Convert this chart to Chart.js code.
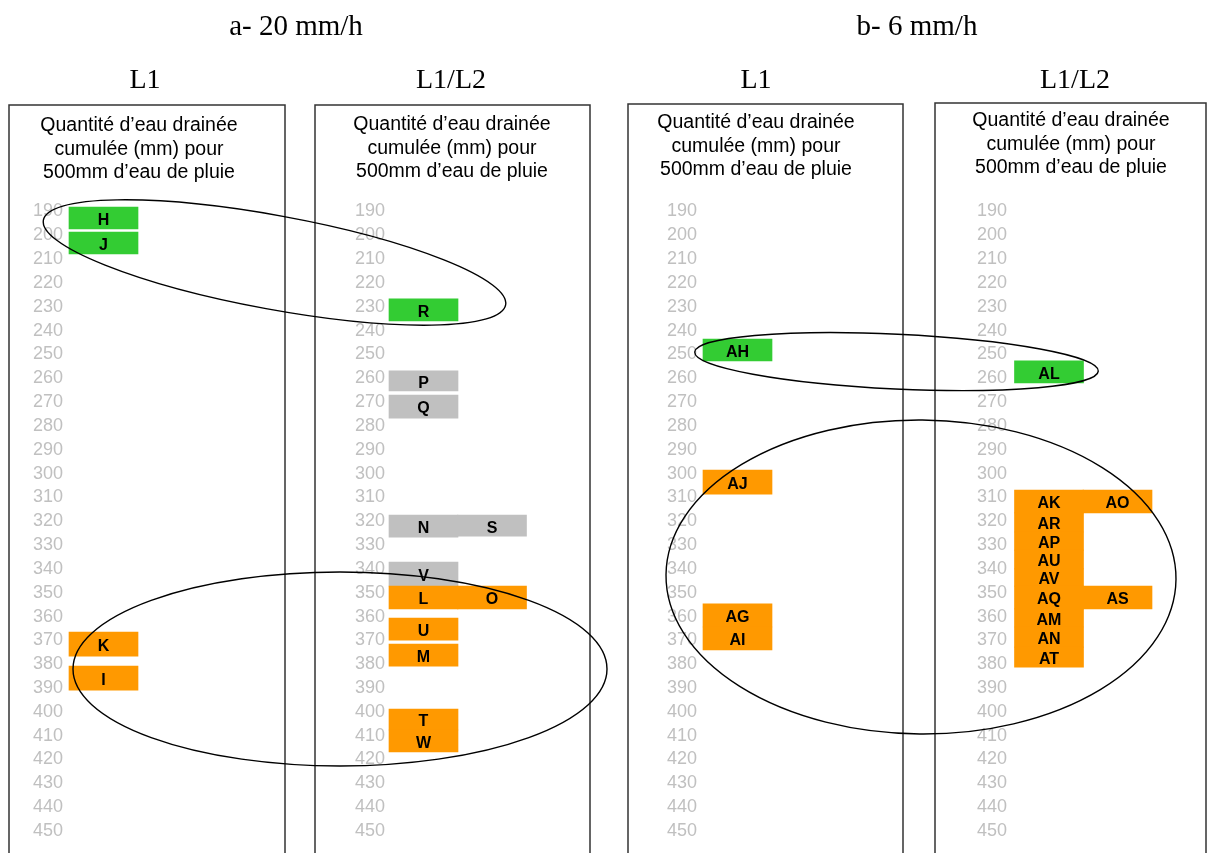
<!DOCTYPE html>
<html>
<head>
<meta charset="utf-8">
<script src="https://cdn.jsdelivr.net/npm/chart.js@4.4.0/dist/chart.umd.min.js"></script>
<style>
  body { margin: 0; background: #fff; }
  #wrap { position: relative; width: 1207px; height: 853px; overflow: hidden; }
</style>
</head>
<body>
<div id="wrap"><canvas id="drainChart"></canvas></div>
<script>
// Tick labels shown in every column (mm)
const tickFirst = 190;
const tickLast = 450;
const tickStep = 10;

const rateTitles = ['a- 20 mm/h', 'b- 6 mm/h'];
const layerTitles = ['L1', 'L1/L2', 'L1', 'L1/L2'];
const headerLines = ['Quantité d\u2019eau drainée', 'cumulée (mm) pour', '500mm d\u2019eau de pluie'];

// a- 20 mm/h, L1
const p1Letters = ['H', 'J', 'K', 'I'];
const p1Column = [1, 1, 1, 1];
const p1From = [188.1, 198.6, 366.5, 380.8];
const p1To = [197.3, 207.8, 376.6, 390.9];
const p1Group = ['vert', 'vert', 'orange', 'orange'];

// a- 20 mm/h, L1/L2
const p2Letters = ['R', 'P', 'Q', 'N', 'S', 'V', 'L', 'O', 'U', 'M', 'T', 'W'];
const p2Column = [1, 1, 1, 1, 2, 1, 1, 2, 1, 1, 1, 1];
const p2From = [226.7, 256.9, 267.0, 317.4, 317.4, 337.1, 347.2, 347.2, 360.6, 371.5, 398.8, 407.6];
const p2To = [235.9, 265.3, 276.7, 326.7, 326.3, 347.2, 356.8, 356.8, 369.9, 380.8, 407.6, 416.8];
const p2Group = ['vert', 'gris', 'gris', 'gris', 'gris', 'gris', 'orange', 'orange', 'orange', 'orange', 'orange', 'orange'];

// b- 6 mm/h, L1
const p3Letters = ['AH', 'AJ', 'AG', 'AI'];
const p3Column = [1, 1, 1, 1];
const p3From = [243.5, 298.5, 354.7, 364.4];
const p3To = [252.7, 308.6, 364.4, 374.0];
const p3Group = ['vert', 'orange', 'orange', 'orange'];

// b- 6 mm/h, L1/L2
const p4Letters = ['AL', 'AK', 'AO', 'AR', 'AP', 'AU', 'AV', 'AQ', 'AS', 'AM', 'AN', 'AT'];
const p4Column = [1, 1, 2, 1, 1, 1, 1, 1, 2, 1, 1, 1];
const p4From = [252.7, 306.9, 306.9, 316.5, 324.5, 332.1, 340.0, 347.2, 347.2, 356.8, 364.4, 372.8];
const p4To = [261.9, 316.5, 316.5, 324.5, 332.1, 340.0, 347.2, 356.8, 356.8, 364.4, 372.8, 381.2];
const p4Group = ['vert', 'orange', 'orange', 'orange', 'orange', 'orange', 'orange', 'orange', 'orange', 'orange', 'orange', 'orange'];

const groupColors = { vert: '#33cc33', gris: '#c0c0c0', orange: '#ff9900' };

// page layout (x in scale units = px, y of ellipses in mm)
const layout = {
  frameLeft: [9, 315, 628, 935],
  frameRight: [285, 590, 903, 1206],
  frameTop: [105, 105, 104, 103],
  tickRight: [63, 385, 697, 1007],
  col1: [103.5, 423.5, 737.5, 1049],
  colGap: 68.5,
  headerX: [139, 452, 756, 1071],
  headerY: [126, 125, 123, 121],
  rateX: [296, 917],
  rateY: 27,
  layerX: [145, 451, 756, 1075],
  layerY: 81,
  ellipses: [
    { cx: 274.5, cy: 211.4, rx: 235, ry: 19.7, tilt: 10.4 },
    { cx: 340, cy: 382.0, rx: 267, ry: 40.7, tilt: 0 },
    { cx: 896.5, cy: 253.0, rx: 202, ry: 11.5, tilt: 2.7 },
    { cx: 921, cy: 343.4, rx: 255, ry: 65.9, tilt: 0.5 }
  ]
};

const panels = [
  { letters: p1Letters, column: p1Column, from: p1From, to: p1To, group: p1Group },
  { letters: p2Letters, column: p2Column, from: p2From, to: p2To, group: p2Group },
  { letters: p3Letters, column: p3Column, from: p3From, to: p3To, group: p3Group },
  { letters: p4Letters, column: p4Column, from: p4From, to: p4To, group: p4Group }
];

const sans = '"Liberation Sans", Arial, sans-serif';
const serif = '"Liberation Serif", "Times New Roman", serif';

const datasets = panels.map((p, i) => ({
  label: layerTitles[i],
  yAxisID: 'y' + i,
  letters: p.letters,
  data: p.from.map((v, k) => ({
    x: layout.col1[i] + (p.column[k] - 1) * layout.colGap,
    y: [v, p.to[k]]
  })),
  backgroundColor: p.group.map(g => groupColors[g]),
  borderWidth: 0,
  barThickness: 69,
  grouped: false
}));

function yAxis(i) {
  return {
    type: 'linear',
    reverse: true,
    min: 101.235,
    max: 459.233,
    position: { x: layout.tickRight[i] },
    grid: { display: false, drawTicks: false },
    border: { display: false },
    afterFit(scale) {
      // labels must not shrink the drawing area
      scale.paddingTop = 0;
      scale.paddingBottom = 0;
    },
    ticks: {
      stepSize: tickStep,
      autoSkip: false,
      padding: 0,
      color: '#c0c0c0',
      font: { family: sans, size: 18 },
      callback: v => {
        const r = Math.round(v);
        return (Math.abs(v - r) < 0.01 && r >= tickFirst && r <= tickLast && r % tickStep === 0) ? String(r) : null;
      }
    }
  };
}

const decor = {
  id: 'decor',
  beforeDatasetsDraw(chart) {
    const ctx = chart.ctx;
    ctx.save();
    ctx.fillStyle = '#000';
    ctx.textAlign = 'center';
    ctx.textBaseline = 'middle';
    ctx.font = '29px ' + serif;
    rateTitles.forEach((t, i) => ctx.fillText(t, layout.rateX[i], layout.rateY));
    ctx.font = '28px ' + serif;
    layerTitles.forEach((t, i) => ctx.fillText(t, layout.layerX[i], layout.layerY));

    ctx.strokeStyle = '#333';
    ctx.lineWidth = 1.5;
    ctx.font = '19.5px ' + sans;
    for (let i = 0; i < 4; i++) {
      ctx.beginPath();
      ctx.moveTo(layout.frameLeft[i], 880);
      ctx.lineTo(layout.frameLeft[i], layout.frameTop[i]);
      ctx.lineTo(layout.frameRight[i], layout.frameTop[i]);
      ctx.lineTo(layout.frameRight[i], 880);
      ctx.stroke();
      headerLines.forEach((line, j) => ctx.fillText(line, layout.headerX[i], layout.headerY[i] + j * 23.5));
    }
    ctx.restore();
  },
  afterDatasetsDraw(chart) {
    const ctx = chart.ctx;
    ctx.save();
    ctx.fillStyle = '#000';
    ctx.textAlign = 'center';
    ctx.textBaseline = 'middle';
    ctx.font = 'bold 16px ' + sans;
    chart.data.datasets.forEach((ds, i) => {
      chart.getDatasetMeta(i).data.forEach((bar, k) => {
        ctx.fillText(ds.letters[k], bar.x, (bar.y + bar.base) / 2 + 2.5);
      });
    });
    ctx.restore();
  },
  afterDraw(chart) {
    const ctx = chart.ctx;
    const xs = chart.scales.x;
    const ys = chart.scales.y0;
    ctx.save();
    ctx.strokeStyle = '#000';
    ctx.lineWidth = 1.4;
    layout.ellipses.forEach(e => {
      const cx = xs.getPixelForValue(e.cx);
      const cy = ys.getPixelForValue(e.cy);
      const rx = Math.abs(xs.getPixelForValue(e.cx + e.rx) - cx);
      const ry = Math.abs(ys.getPixelForValue(e.cy + e.ry) - cy);
      ctx.beginPath();
      ctx.ellipse(cx, cy, rx, ry, e.tilt * Math.PI / 180, 0, Math.PI * 2);
      ctx.stroke();
    });
    ctx.restore();
  }
};

new Chart(document.getElementById('drainChart'), {
  type: 'bar',
  data: { datasets: datasets },
  options: {
    responsive: true,
    maintainAspectRatio: false,
    animation: false,
    events: [],
    layout: { padding: 0 },
    plugins: {
      legend: { display: false },
      tooltip: { enabled: false }
    },
    scales: {
      x: { type: 'linear', min: 0, max: 1207, offset: false, display: false },
      y0: yAxis(0),
      y1: yAxis(1),
      y2: yAxis(2),
      y3: yAxis(3)
    }
  },
  plugins: [decor]
});
</script>
</body>
</html>
